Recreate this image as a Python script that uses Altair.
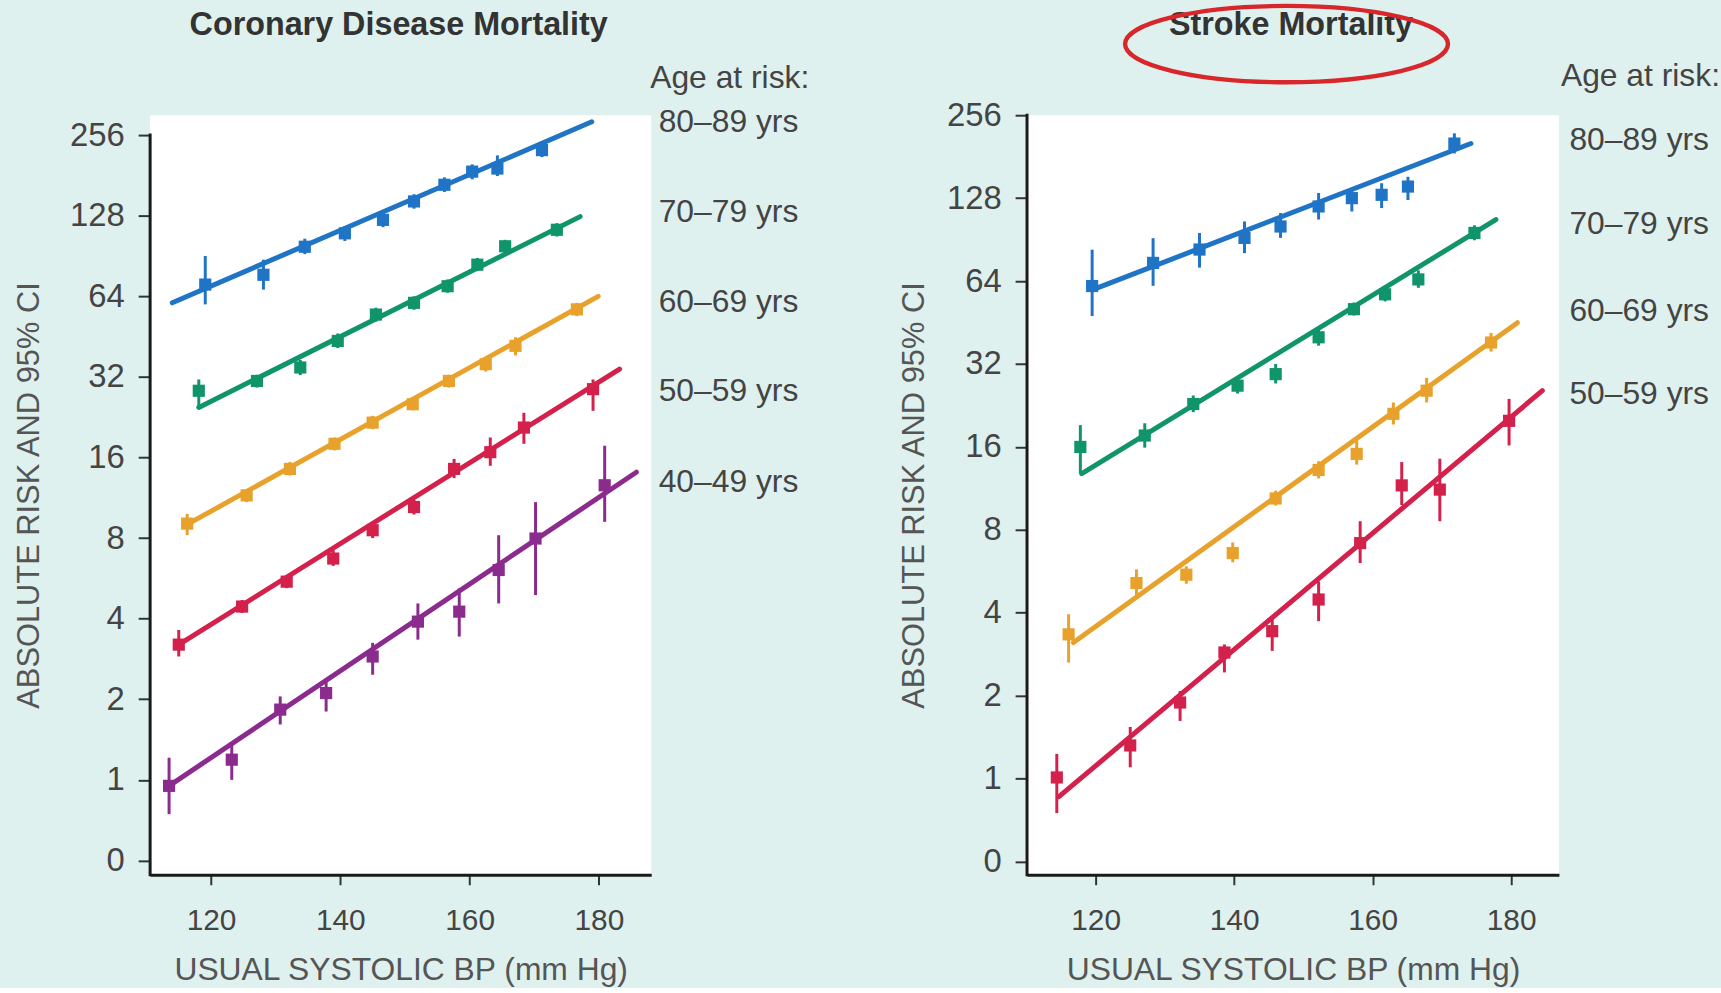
import altair as alt
import pandas as pd

FONT = "Liberation Sans"
BG = "#dff1ee"

# ---------------- Coronary disease mortality (left panel) ----------------
CHD_AGES = ["80–89 yrs", "70–79 yrs", "60–69 yrs", "50–59 yrs", "40–49 yrs"]
CHD_COLORS = ["#1f74c6", "#10946a", "#e8a22c", "#d4214c", "#8b2b8e"]

CHD_BP = [
    [119.1, 128.1, 134.5, 140.7, 146.6, 151.4, 156.1, 160.4, 164.3, 171.2],
    [118.1, 127.1, 133.8, 139.6, 145.5, 151.4, 156.6, 161.2, 165.5, 173.5],
    [116.3, 125.5, 132.2, 139.1, 145.0, 151.2, 156.8, 162.5, 167.1, 176.6],
    [115.0, 124.8, 131.7, 138.9, 145.0, 151.4, 157.6, 163.2, 168.4, 179.1],
    [113.5, 123.2, 130.7, 137.8, 145.0, 152.0, 158.4, 164.5, 170.2, 180.9],
]
CHD_RISK = [
    [70.8, 77.0, 98.0, 110.0, 123.5, 144.7, 167.0, 187.0, 192.0, 225.0],
    [28.4, 30.9, 34.7, 43.6, 54.7, 60.5, 69.8, 84.0, 98.4, 113.4],
    [9.06, 11.55, 14.5, 18.0, 21.6, 25.3, 30.9, 35.7, 41.8, 57.2],
    [3.2, 4.44, 5.5, 6.71, 8.56, 10.45, 14.5, 16.75, 20.7, 28.8],
    [0.95, 1.19, 1.83, 2.11, 2.89, 3.9, 4.25, 6.08, 7.97, 12.6],
]
CHD_LO = [
    [59.7, 67.8, 92.0, 103.0, 116.0, 136.0, 157.0, 175.0, 180.0, 212.0],
    [24.6, 29.2, 32.5, 41.0, 51.5, 57.0, 66.0, 79.5, 93.0, 107.0],
    [8.2, 10.9, 13.7, 17.0, 20.4, 24.0, 29.2, 33.5, 38.5, 54.0],
    [2.89, 4.2, 5.2, 6.3, 8.0, 9.8, 13.4, 14.9, 18.0, 23.9],
    [0.745, 1.0, 1.61, 1.8, 2.47, 3.34, 3.43, 4.56, 4.9, 9.2],
]
CHD_HI = [
    [90.5, 87.7, 105.0, 117.0, 131.0, 154.0, 178.0, 199.0, 215.0, 238.0],
    [31.3, 32.6, 37.0, 46.5, 58.0, 64.0, 74.0, 89.0, 104.0, 120.0],
    [9.85, 12.2, 15.4, 19.0, 22.9, 26.8, 32.6, 38.0, 45.0, 60.5],
    [3.63, 4.7, 5.8, 7.2, 9.2, 11.1, 15.8, 19.0, 23.5, 31.3],
    [1.21, 1.38, 2.05, 2.33, 3.25, 4.56, 5.19, 8.2, 10.9, 17.7],
]
CHD_LINE_BP = [[114.0, 178.9], [118.1, 177.1], [116.1, 179.9], [115.0, 183.2], [113.5, 185.8]]
CHD_LINE_RISK = [[60.5, 287.0], [24.6, 127.0], [8.94, 64.0], [3.2, 34.2], [0.95, 14.1]]

# ---------------- Stroke mortality (right panel) ----------------
STK_AGES = ["80–89 yrs", "70–79 yrs", "60–69 yrs", "50–59 yrs"]
STK_COLORS = ["#1f74c6", "#10946a", "#e8a22c", "#d4214c"]

STK_BP = [
    [119.5, 128.3, 135.0, 141.5, 146.7, 152.2, 157.0, 161.3, 165.1, 171.8],
    [117.8, 127.1, 134.1, 140.5, 146.0, 152.2, 157.3, 161.8, 166.6, 174.7],
    [116.1, 125.9, 133.1, 139.8, 146.0, 152.2, 157.7, 163.0, 167.8, 177.1],
    [114.4, 125.0, 132.2, 138.6, 145.5, 152.2, 158.2, 164.2, 169.7, 179.7],
]
STK_RISK = [
    [61.4, 74.5, 83.3, 91.8, 101.0, 119.4, 128.0, 131.6, 141.0, 202.0],
    [16.0, 17.6, 22.9, 26.7, 29.4, 40.0, 50.6, 57.3, 64.9, 95.7],
    [3.34, 5.13, 5.5, 6.59, 10.4, 13.2, 15.1, 21.1, 25.6, 38.3],
    [1.01, 1.32, 1.89, 2.87, 3.43, 4.47, 7.16, 11.6, 11.2, 19.9],
]
STK_LO = [
    [47.8, 61.5, 71.6, 80.8, 91.8, 107.0, 114.5, 117.8, 126.0, 186.0],
    [12.8, 15.9, 21.4, 25.0, 27.2, 37.3, 48.0, 54.0, 60.5, 90.0],
    [2.64, 4.6, 5.1, 6.1, 9.8, 12.3, 13.8, 19.3, 23.2, 35.5],
    [0.75, 1.10, 1.62, 2.43, 2.91, 3.73, 6.06, 9.85, 8.6, 16.2],
]
STK_HI = [
    [83.2, 91.6, 95.7, 105.3, 113.0, 133.6, 139.0, 145.0, 153.0, 220.0],
    [19.2, 19.5, 24.6, 28.7, 32.0, 43.0, 53.5, 61.0, 70.0, 102.0],
    [3.95, 5.75, 5.9, 7.2, 11.1, 14.2, 16.9, 23.2, 28.5, 41.5],
    [1.23, 1.54, 2.08, 3.07, 3.84, 5.2, 8.6, 14.1, 14.5, 23.9],
]
STK_LINE_BP = [[119.7, 174.2], [118.0, 177.8], [116.8, 180.9], [114.7, 184.5]]
STK_LINE_RISK = [[59.7, 202.0], [12.8, 107.0], [3.12, 45.2], [0.86, 25.6]]

X_TICKS = [120, 140, 160, 180]
Y_TICKS = [0.5, 1, 2, 4, 8, 16, 32, 64, 128, 256]
Y_AXIS_TOP = 256
LEGEND_TITLE = "Age at risk:"

ELLIPSE = ("M -1 0 C -1 -0.1306 -0.5523 -0.2365 0 -0.2365 "
           "C 0.5523 -0.2365 1 -0.1306 1 0 "
           "C 1 0.1306 0.5523 0.2365 0 0.2365 "
           "C -0.5523 0.2365 -1 0.1306 -1 0 Z")


def points_df(ages, bps, risks, los, his):
    rows = []
    for a, b, r, l, h in zip(ages, bps, risks, los, his):
        for bb, rr, ll, hh in zip(b, r, l, h):
            rows.append({"age": a, "bp": bb, "risk": rr, "lo": ll, "hi": hh})
    return pd.DataFrame(rows)


def lines_df(ages, lbps, lrisks):
    rows = []
    for a, b, r in zip(ages, lbps, lrisks):
        for bb, rr in zip(b, r):
            rows.append({"age": a, "bp": bb, "risk": rr})
    return pd.DataFrame(rows)


def panel(title, ages, colors, pts, lns, xdom, ydom, width, height,
          y_title_pad, leg_x, leg_title_y, leg_label_ys, ellipse=False):
    xs = alt.Scale(domain=xdom, nice=False, zero=False)
    ys = alt.Scale(type="log", base=2, domain=ydom, nice=False)
    xaxis = alt.Axis(values=X_TICKS, title="USUAL SYSTOLIC BP (mm Hg)", grid=False,
                     labelFlush=False, titleFontSize=32)
    yaxis = alt.Axis(values=Y_TICKS, title="ABSOLUTE RISK AND 95% CI", grid=False,
                     labelExpr="datum.value < 0.75 ? '0' : format(datum.value, 'd')",
                     labelFlush=False, labelFontSize=33, titleFontSize=31,
                     titlePadding=y_title_pad, domain=False)
    color = alt.Color("age:N", scale=alt.Scale(domain=ages, range=colors), legend=None)
    x = alt.X("bp:Q", scale=xs, axis=xaxis)
    # y axis line: runs from the top tick (256) down to the x axis
    yline = alt.Chart(pd.DataFrame({"v": [Y_AXIS_TOP]})).mark_rule(
        color="#1a1a1a", strokeWidth=3, strokeCap="square").encode(
        x=alt.value(0), y=alt.Y("v:Q", scale=ys, axis=yaxis), y2=alt.value(height))
    line = alt.Chart(lns).mark_line(strokeWidth=5, strokeCap="round").encode(
        x=x, y=alt.Y("risk:Q", scale=ys, axis=yaxis), color=color, detail="age:N")
    rules = alt.Chart(pts).mark_rule(strokeWidth=3).encode(
        x=x, y=alt.Y("lo:Q", scale=ys, axis=yaxis), y2="hi:Q", color=color)
    squares = alt.Chart(pts).mark_square(size=150, opacity=1).encode(
        x=x, y=alt.Y("risk:Q", scale=ys, axis=yaxis), color=color)
    ttl = alt.Chart(pd.DataFrame({"t": [title]})).mark_text(
        font=FONT, fontSize=32.5, fontWeight="bold", color="#333",
        align="center", baseline="alphabetic").encode(
        text="t:N", x=alt.value(width / 2 - 2), y=alt.value(-80.5))
    leg_head = alt.Chart(pd.DataFrame({"t": [LEGEND_TITLE]})).mark_text(
        font=FONT, fontSize=32, color="#444", align="left", baseline="middle").encode(
        text="t:N", x=alt.value(leg_x), y=alt.value(leg_title_y))
    leg_rows = [
        alt.Chart(pd.DataFrame({"t": [a]})).mark_text(
            font=FONT, fontSize=32, color="#444", align="left", baseline="middle").encode(
            text="t:N", x=alt.value(leg_x + 8.5), y=alt.value(ly))
        for a, ly in zip(ages, leg_label_ys)
    ]
    layers = [line, rules, squares, yline, ttl, leg_head] + leg_rows
    if ellipse:
        ell = alt.Chart(pd.DataFrame({"e": [1]})).mark_point(
            shape=ELLIPSE, size=105500, filled=False, color="#d8262a",
            strokeWidth=4.4, strokeJoin="round", opacity=1).encode(
            x=alt.value(261), y=alt.value(-71.5))
        layers.append(ell)
    return alt.layer(*layers).properties(width=width, height=height)


chd_pts = points_df(CHD_AGES, CHD_BP, CHD_RISK, CHD_LO, CHD_HI)
chd_lns = lines_df(CHD_AGES, CHD_LINE_BP, CHD_LINE_RISK)
stk_pts = points_df(STK_AGES, STK_BP, STK_RISK, STK_LO, STK_HI)
stk_lns = lines_df(STK_AGES, STK_LINE_BP, STK_LINE_RISK)

left = panel("Coronary Disease Mortality", CHD_AGES, CHD_COLORS, chd_pts, chd_lns,
             [110.57, 188.1], [0.4421, 303.8], 504, 764, 24,
             503, -37.5, [6.5, 97.5, 187.5, 277.5, 368.5])
right = panel("Stroke Mortality", STK_AGES, STK_COLORS, stk_pts, stk_lns,
              [110.1, 186.9], [0.4478, 256.0], 535, 764, 16,
              537, -39.5, [24.5, 109.5, 196.5, 280.5], ellipse=True)

chart = alt.HConcatChart(hconcat=[left, right], spacing=378, bounds="flush").resolve_scale(
    color="independent").configure(
    background=BG, padding={"left": 13, "top": 0, "right": 0, "bottom": 0}
).configure_view(fill="white", stroke=None).configure_axis(
    labelFont=FONT, titleFont=FONT, labelFontSize=30, titleFontSize=31,
    labelColor="#444", titleColor="#555", titleFontWeight="normal",
    domainColor="#1a1a1a", domainWidth=3, tickColor="#333", tickWidth=2,
).configure_axisX(tickSize=10, labelPadding=21, titlePadding=19).configure_axisY(
    tickSize=12, labelPadding=14)

chart.save("out.html", embed_options={"renderer": "svg", "actions": False})
